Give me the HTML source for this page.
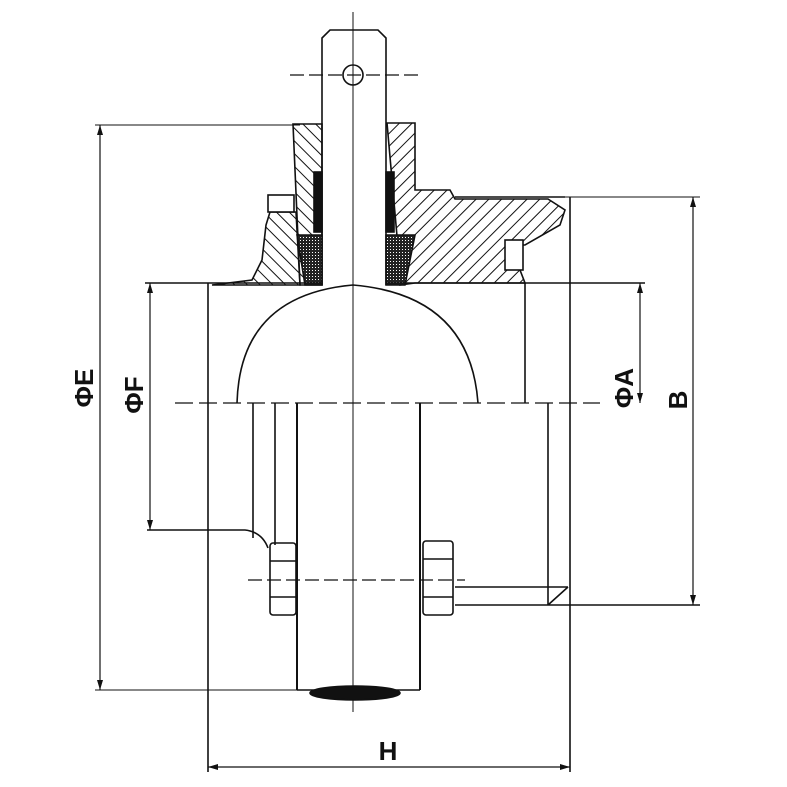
<!DOCTYPE html>
<html><head><meta charset="utf-8"><style>html,body{margin:0;padding:0;background:#fff}svg{display:block}</style></head><body>
<svg width="787" height="787" viewBox="0 0 787 787" xmlns="http://www.w3.org/2000/svg">
<defs>
<pattern id="h" patternUnits="userSpaceOnUse" width="9" height="9" patternTransform="rotate(45)"><line x1="0" y1="0" x2="0" y2="9" stroke="#111" stroke-width="2"/></pattern>
<pattern id="h2" patternUnits="userSpaceOnUse" width="9" height="9" patternTransform="rotate(-45)"><line x1="0" y1="0" x2="0" y2="9" stroke="#111" stroke-width="2"/></pattern>
<pattern id="d" patternUnits="userSpaceOnUse" width="3" height="3"><rect width="3" height="3" fill="#222"/><rect width="1" height="1" fill="#fff"/></pattern>
</defs>
<g fill="none" stroke="#111" stroke-width="1.6">
<line x1="353" y1="12" x2="353" y2="712" stroke-width="1"/>
<path d="M322,120 V38 L330,30 H378 L386,38 V120"/>
<circle cx="353" cy="75" r="10"/>
<line x1="290" y1="75" x2="420" y2="75" stroke-dasharray="14,5" stroke-width="1.2"/>
<line x1="322" y1="120" x2="322" y2="285"/><line x1="386" y1="120" x2="386" y2="285"/>
<path d="M293,124 H322 V285 H300 Z" fill="url(#h2)"/>
<!-- left flange -->
<path d="M270,212 H296 L300,285 H212 L252,280 L262,260 L266,225 Z" fill="url(#h2)"/>
<rect x="268" y="195" width="26" height="17" fill="#fff"/>
<path d="M387,123 H415 V190 H450 L455,199 H548 L565,210 L560,225 L525,245 H520 V270 L525,283 H415 L400,285 V270 Z" fill="url(#h)"/>
<rect x="505" y="240" width="18" height="30" fill="#fff"/>
<line x1="455" y1="197" x2="565" y2="197"/>
<rect x="314" y="172" width="8" height="60" fill="#111"/>
<rect x="386" y="172" width="8" height="60" fill="#111"/>
<path d="M297,235 H322 V285 H305 Z" fill="url(#d)"/>
<path d="M386,235 H415 L405,285 H386 Z" fill="url(#d)"/>
<line x1="145" y1="283" x2="322" y2="283"/><line x1="386" y1="283" x2="645" y2="283"/>
<path d="M237,403 Q240,295 353,285 Q470,295 478,403"/>
<line x1="175" y1="403" x2="600" y2="403" stroke-dasharray="18,6" stroke-width="1.2"/>
<line x1="208" y1="283" x2="208" y2="772"/>
<line x1="570" y1="197" x2="570" y2="772"/>
<line x1="525" y1="283" x2="525" y2="403"/>
<line x1="253" y1="403" x2="253" y2="538"/>
<line x1="275" y1="403" x2="275" y2="545"/>
<line x1="297" y1="403" x2="297" y2="690" stroke-width="2"/>
<line x1="420" y1="403" x2="420" y2="690" stroke-width="2"/>
<line x1="297" y1="690" x2="420" y2="690"/>
<line x1="548" y1="403" x2="548" y2="605"/>
<ellipse cx="355" cy="693" rx="45" ry="7" fill="#111"/>
<rect x="270" y="543" width="26" height="72" rx="3"/>
<line x1="270" y1="561" x2="296" y2="561"/><line x1="270" y1="597" x2="296" y2="597"/>
<rect x="423" y="541" width="30" height="74" rx="3"/>
<line x1="423" y1="559" x2="453" y2="559"/><line x1="423" y1="597" x2="453" y2="597"/>
<line x1="248" y1="580" x2="465" y2="580" stroke-dasharray="14,5" stroke-width="1.2"/>
<path d="M455,587 H568 M455,605 H700 M548,605 L568,587"/>
<path d="M147,530 H245 Q262,532 268,548"/>
<line x1="95" y1="125" x2="300" y2="125" stroke-width="1"/>
<line x1="95" y1="690" x2="297" y2="690" stroke-width="1"/>
<line x1="100" y1="125" x2="100" y2="690" stroke-width="1.2"/>
<line x1="150" y1="283" x2="150" y2="530" stroke-width="1.2"/>
<line x1="640" y1="283" x2="640" y2="403" stroke-width="1.2"/>
<line x1="565" y1="197" x2="700" y2="197" stroke-width="1"/>
<line x1="693" y1="197" x2="693" y2="605" stroke-width="1.2"/>
<line x1="208" y1="767" x2="570" y2="767" stroke-width="1.2"/>
</g>
<g fill="#111">
<path d="M100,125 l-3,10 h6 z M100,690 l-3,-10 h6 z"/>
<path d="M150,283 l-3,10 h6 z M150,530 l-3,-10 h6 z"/>
<path d="M640,283 l-3,10 h6 z M640,403 l-3,-10 h6 z"/>
<path d="M693,197 l-3,10 h6 z M693,605 l-3,-10 h6 z"/>
<path d="M208,767 l10,-3 v6 z M570,767 l-10,-3 v6 z"/>
</g>
<g font-family="Liberation Sans, sans-serif" font-weight="bold" font-size="26" fill="#111">
<text x="388" y="760" text-anchor="middle">H</text>
<text transform="translate(93,388) rotate(-90)" text-anchor="middle">ΦE</text>
<text transform="translate(143,395) rotate(-90)" text-anchor="middle">ΦF</text>
<text transform="translate(633,388) rotate(-90)" text-anchor="middle">ΦA</text>
<text transform="translate(687,400) rotate(-90)" text-anchor="middle">B</text>
</g>
</svg>
</body></html>
